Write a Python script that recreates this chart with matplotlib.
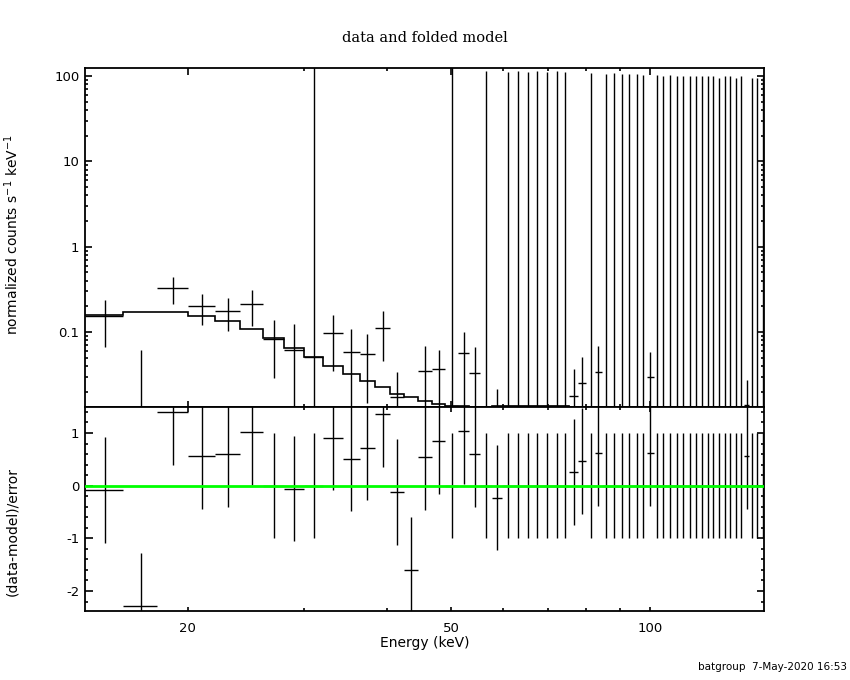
import numpy as np
import matplotlib
matplotlib.use('Agg')
import matplotlib.pyplot as plt
from matplotlib.ticker import FixedLocator, FuncFormatter, LogLocator, NullFormatter, MultipleLocator


# energy bin edges (keV), 59 channels
bin_edges = [14.0, 16.0, 18.0, 20.0, 22.0, 24.0, 26.0, 28.0, 30.0, 32.0,
             34.3, 36.4, 38.4, 40.5, 42.5, 44.6, 46.8, 49.0, 51.2, 53.3,
             55.4, 57.7, 59.8, 62.0, 64.2, 66.4, 68.7, 71.1, 73.3, 75.5,
             77.7, 80.1, 82.4, 84.6, 87.0, 89.3, 91.7, 94.2, 96.5, 98.8,
             101.2, 103.5, 105.8, 108.4, 110.9, 113.4, 115.9, 118.3, 120.8, 123.3,
             125.8, 128.4, 130.9, 133.3, 135.8, 138.5, 141.1, 143.5, 146.5, 150.0]

# normalized counts s^-1 keV^-1 per channel
rate = [0.152, -0.024, 0.325, 0.200, 0.178, 0.213, 0.0835, 0.0615, 0.0513, 0.0965,
        0.0578, 0.0548, 0.1105, 0.0174, -0.0021, 0.0349, 0.0365, 0.0136, 0.0563, 0.0328,
        0.0133, 0.0112, 0.0134, 0.0137, 0.0137, 0.0134, 0.0134, 0.0134, 0.0135, 0.0179,
        0.0250, 0.0128, 0.0337, 0.0120, 0.0118, 0.0117, 0.0116, 0.0115, 0.0115, 0.0295,
        0.0112, 0.0110, 0.0107, 0.0104, 0.0100, 0.0096, 0.0092, 0.0088, 0.0084, 0.0080,
        0.0076, 0.0073, 0.0070, 0.0067, 0.0064, 0.0138, 0.0060, 0.0058, 0.0056]

# 1 sigma errors on the rate
rate_err = [0.086, 0.086, 0.113, 0.079, 0.075, 0.097, 0.0545, 0.064, 300.0, 0.062,
            0.050, 0.040, 0.065, 0.0169, 0.012, 0.034, 0.025, 300.0, 0.043, 0.034,
            113.0, 0.0101, 112.0, 113.0, 112.0, 113.0, 112.0, 113.0, 112.0, 0.019,
            0.0255, 108.0, 0.035, 106.0, 107.0, 106.0, 105.0, 106.0, 104.0, 0.029,
            102.0, 100.0, 102.0, 100.0, 100.0, 100.0, 100.0, 100.0, 100.0, 100.0,
            95.0, 100.0, 100.0, 95.0, 100.0, 0.0136, 95.0, 95.0, 97.0]

# folded model per channel
model = [0.159, 0.173, 0.169, 0.155, 0.135, 0.108, 0.0843, 0.065, 0.0513, 0.0403,
         0.0322, 0.0266, 0.0225, 0.0188, 0.0171, 0.0157, 0.0143, 0.0136, 0.0134, 0.0133,
         0.0133, 0.0135, 0.0134, 0.0137, 0.0137, 0.0134, 0.0134, 0.0134, 0.0135, 0.0131,
         0.0130, 0.0128, 0.0122, 0.0120, 0.0118, 0.0117, 0.0116, 0.0115, 0.0115, 0.0115,
         0.0112, 0.0110, 0.0107, 0.0104, 0.0100, 0.0096, 0.0092, 0.0088, 0.0084, 0.0080,
         0.0076, 0.0073, 0.0070, 0.0067, 0.0064, 0.0062, 0.0060, 0.0058, 0.0056]

# residuals (data-model)/error
resid = [-0.08, -2.28, 1.40, 0.56, 0.60, 1.02, 0.0, -0.06, 0.0, 0.91,
         0.51, 0.72, 1.36, -0.12, -1.60, 0.54, 0.85, 0.0, 1.04, 0.60,
         0.0, -0.23, 0.0, 0.0, 0.0, 0.0, 0.0, 0.0, 0.0, 0.26,
         0.47, 0.0, 0.62, 0.0, 0.0, 0.0, 0.0, 0.0, 0.0, 0.62,
         0.0, 0.0, 0.0, 0.0, 0.0, 0.0, 0.0, 0.0, 0.0, 0.0,
         0.0, 0.0, 0.0, 0.0, 0.0, 0.56, 0.0, 0.0, 0.0]

x_ticks = [20, 50, 100]
x_minor = [30, 40, 60, 70, 80, 90]


edges = np.array(bin_edges)
e_lo, e_hi = edges[:-1], edges[1:]
e_mid = 0.5 * (e_lo + e_hi)
rate = np.array(rate)
rate_err = np.array(rate_err)
resid = np.array(resid)

PX = 0.72  # points per pixel at dpi 100

fig = plt.figure(figsize=(8.5, 6.8), dpi=100)
ax1 = fig.add_axes([0.1, 0.4015, 0.7992, 0.4985])
ax2 = fig.add_axes([0.1, 0.1015, 0.7992, 0.3])

####################
# top: data + model
####################
lo = np.clip(rate - rate_err, 1e-6, None)
hi = rate + rate_err
ax1.vlines(e_mid, lo, hi, color='k', lw=1.0)
pos = rate > 0
ax1.hlines(rate[pos], e_lo[pos], e_hi[pos], color='k', lw=1.0)
ax1.stairs(model, edges, baseline=None, color='k', lw=1.2)

ax1.set_xscale('log')
ax1.set_yscale('log')
ax1.set_xlim(14.0, 148.7)
ax1.set_ylim(0.0132, 124)

######################
# bottom: residuals
######################
ax2.vlines(e_mid, resid - 1, resid + 1, color='k', lw=1.0)
ax2.hlines(resid, e_lo, e_hi, color='k', lw=1.0)
ax2.axhline(0, color='#00ff00', lw=2.0, zorder=5)

ax2.set_xscale('log')
ax2.set_xlim(14.0, 148.7)
ax2.set_ylim(-2.38, 1.494)

fmt = FuncFormatter(lambda v, p: '%g' % v)
for ax in (ax1, ax2):
    ax.xaxis.set_major_locator(FixedLocator(x_ticks))
    ax.xaxis.set_minor_locator(FixedLocator(x_minor))
    ax.xaxis.set_major_formatter(fmt)
    ax.xaxis.set_minor_formatter(NullFormatter())
    ax.tick_params(which='both', direction='in', top=True, right=True,
                   width=1.2, labelsize=9.5, colors='k')
    for s in ax.spines.values():
        s.set_linewidth(1.3)

ax1.yaxis.set_major_locator(LogLocator(base=10))
ax1.yaxis.set_minor_locator(LogLocator(base=10, subs=np.arange(2, 10)))
ax1.yaxis.set_major_formatter(fmt)
ax1.yaxis.set_minor_formatter(NullFormatter())
ax1.tick_params(axis='x', which='major', length=6.5 * PX, labelbottom=False)
ax1.tick_params(axis='x', which='minor', length=3.3 * PX)
ax1.tick_params(axis='y', which='major', length=7 * PX, pad=4)
ax1.tick_params(axis='y', which='minor', length=3.3 * PX)

ax2.yaxis.set_major_locator(MultipleLocator(1))
ax2.yaxis.set_minor_locator(MultipleLocator(0.2))
ax2.yaxis.set_major_formatter(fmt)
ax2.tick_params(axis='x', which='major', length=4.5 * PX, pad=8)
ax2.tick_params(axis='x', which='minor', length=2.7 * PX)
ax2.tick_params(axis='y', which='major', length=7.5 * PX, pad=4)
ax2.tick_params(axis='y', which='minor', length=3.3 * PX)

# labels
fig.text(0.5, 0.944, 'data and folded model', ha='center', va='center',
         family='DejaVu Serif', fontsize=10.5)
fig.text(0.5, 0.054, 'Energy (keV)', ha='center', va='center', fontsize=10)
fig.text(0.014, 0.655, r'normalized counts s$^{-1}$ keV$^{-1}$', rotation=90,
         ha='center', va='center', fontsize=10)
fig.text(0.014, 0.218, '(data-model)/error', rotation=90,
         ha='center', va='center', fontsize=10)
fig.text(0.997, 0.012, 'batgroup  7-May-2020 16:53', ha='right', va='bottom',
         fontsize=7.5)

fig.savefig('out.png', dpi=100)
